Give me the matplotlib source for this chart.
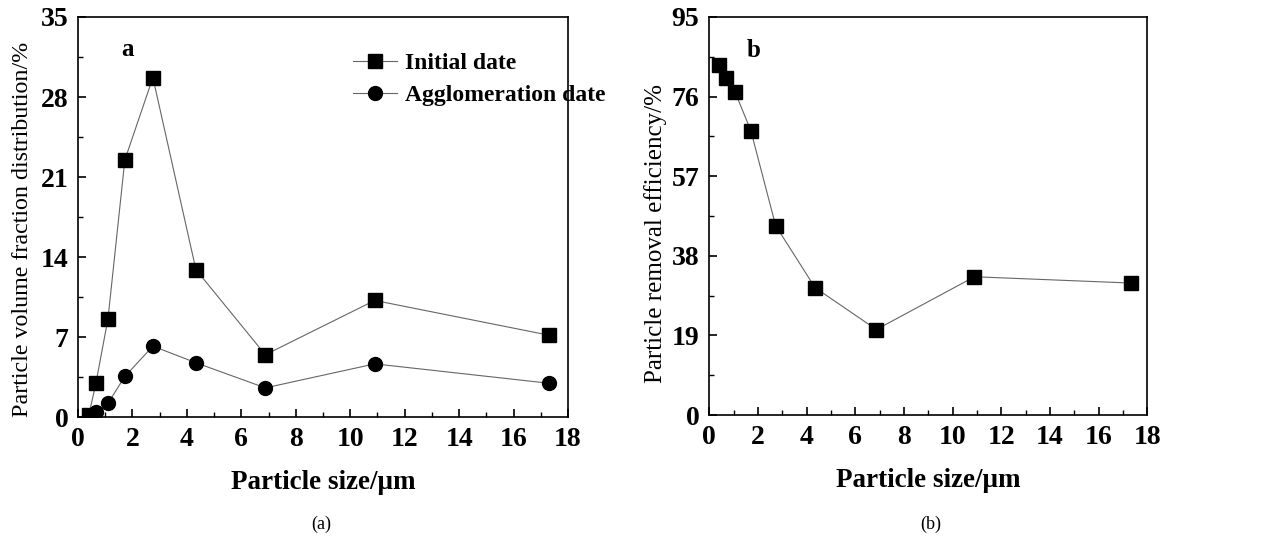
import matplotlib
matplotlib.use('Agg')
import matplotlib.pyplot as plt
from matplotlib.ticker import MultipleLocator

plt.rcParams['font.family'] = ['Liberation Serif', 'DejaVu Serif']

# data
size_a = [0.4, 0.66, 1.1, 1.72, 2.75, 4.33, 6.88, 10.9, 17.32]
initial = [0.2, 3.0, 8.6, 22.5, 29.7, 12.9, 5.45, 10.2, 7.15]
agglom = [0.05, 0.4, 1.2, 3.55, 6.2, 4.75, 2.55, 4.65, 2.95]

size_b = [0.42, 0.67, 1.06, 1.71, 2.73, 4.35, 6.87, 10.9, 17.32]
removal = [83.6, 80.4, 77.1, 67.9, 45.2, 30.4, 20.4, 33.0, 31.5]

line_c = '#666666'

fig = plt.figure(figsize=(12.71, 5.43), dpi=100)
ax1 = fig.add_axes([0.0614, 0.232, 0.3855, 0.7367])
ax2 = fig.add_axes([0.558, 0.2357, 0.3446, 0.733])

# panel a
ax1.plot(size_a, initial, color=line_c, lw=0.8, marker='s', ms=9.5,
         mfc='black', mec='black', label='Initial date')
ax1.plot(size_a, agglom, color=line_c, lw=0.8, marker='o', ms=10,
         mfc='black', mec='black', label='Agglomeration date')
ax1.set_xlim(0, 18)
ax1.set_ylim(0, 35)
ax1.yaxis.set_major_locator(MultipleLocator(7))
ax1.yaxis.set_minor_locator(MultipleLocator(3.5))
ax1.set_ylabel('Particle volume fraction distribution/%', fontsize=17.3)
ax1.yaxis.set_label_coords(-0.092, 0.47)
ax1.text(1.6, 31.6, 'a', fontsize=18, fontweight='bold')
ax1.legend(loc='upper left', bbox_to_anchor=(0.541, 0.935), frameon=False,
           prop={'weight': 'bold', 'size': 17},
           handlelength=1.9, handletextpad=0.3, labelspacing=0.45, borderaxespad=0)

# panel b
ax2.plot(size_b, removal, color=line_c, lw=0.8, marker='s', ms=9.5,
         mfc='black', mec='black')
ax2.set_xlim(0, 18)
ax2.set_ylim(0, 95)
ax2.yaxis.set_major_locator(MultipleLocator(19))
ax2.yaxis.set_minor_locator(MultipleLocator(9.5))
ax2.set_ylabel('Particle removal efficiency/%', fontsize=18)
ax2.yaxis.set_label_coords(-0.097, 0.457)
ax2.text(1.55, 85.5, 'b', fontsize=18, fontweight='bold')

for ax in (ax1, ax2):
    ax.xaxis.set_major_locator(MultipleLocator(2))
    ax.xaxis.set_minor_locator(MultipleLocator(1))
    ax.tick_params(which='both', direction='in', top=False, right=False)
    ax.tick_params(which='major', length=6, width=1.2, labelsize=20, pad=7)
    ax.tick_params(which='minor', length=3.5, width=1.0)
    for lab in ax.get_xticklabels() + ax.get_yticklabels():
        lab.set_fontweight('bold')
    for sp in ax.spines.values():
        sp.set_linewidth(1.2)
    ax.set_xlabel('Particle size/μm', fontsize=19.5, fontweight='bold', labelpad=13)

fig.text(0.2525, 0.035, '(a)', fontsize=13, ha='center', va='center')
fig.text(0.732, 0.035, '(b)', fontsize=13, ha='center', va='center')

fig.savefig('out.png', dpi=100)
